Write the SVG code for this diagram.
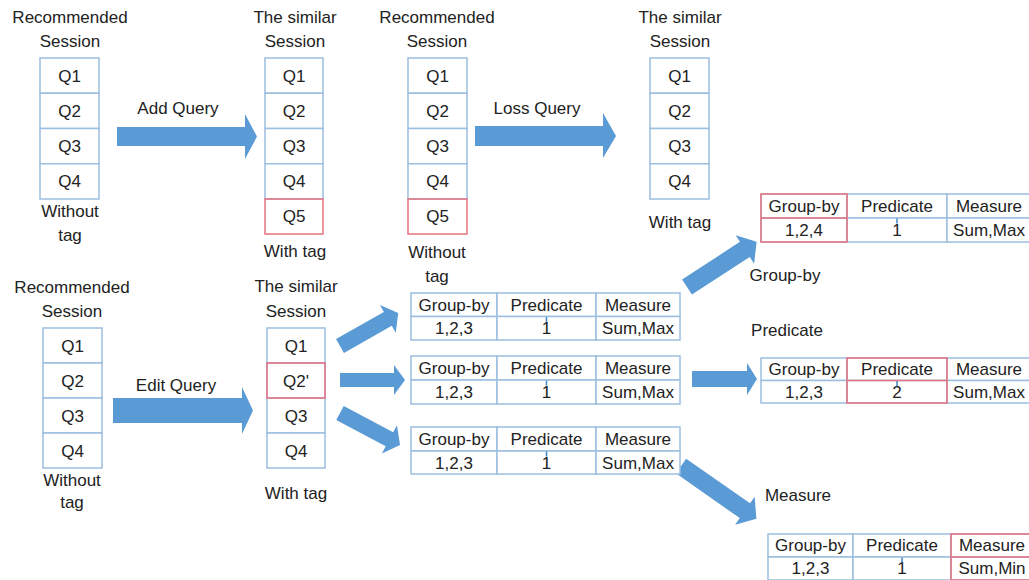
<svg xmlns="http://www.w3.org/2000/svg" width="1029" height="580" viewBox="0 0 1029 580">
<style>
text{font-family:"Liberation Sans",Arial,sans-serif;font-size:17px;fill:#222;text-anchor:middle}
.b{fill:#fff;stroke:#9cbfe0;stroke-width:1.5}
.r{fill:none;stroke:#e8737f;stroke-width:1.5}
.ar{fill:#5b9bd5}
.tk{stroke:#3f86c9;stroke-width:1.5}
</style>
<rect width="1029" height="580" fill="#fff"/>

<g id="connectors">
<polygon class="ar" points="117,127 245,127 245,114 257,136.5 245,159 245,146 117,146"/>
<polygon class="ar" points="475,126 603,126 603,113 616,136 603,158 603,146 475,146"/>
<polygon class="ar" points="113,398 242,398 242,387 253,410.5 242,434 242,423 113,423"/>
<polygon class="ar" transform="translate(340,346) rotate(-29.6)" points="0,-8 55,-8 55,-16 67,0 55,16 55,8 0,8"/>
<polygon class="ar" points="340,373 394,373 394,365 405,380 394,395 394,387 340,387"/>
<polygon class="ar" transform="translate(340,413) rotate(28)" points="0,-8 56,-8 56,-16 68,0 56,16 56,8 0,8"/>
<polygon class="ar" transform="translate(687,287) rotate(-33)" points="0,-9 69,-9 69,-17 83,0 69,17 69,9 0,9"/>
<polygon class="ar" points="692,371 747,371 747,363 757,379 747,395 747,387 692,387"/>
<polygon class="ar" transform="translate(681,466) rotate(35)" points="0,-9 78,-9 78,-17 92,0 78,17 78,9 0,9"/>
<text x="178" y="114">Add Query</text>
<text x="537" y="114">Loss Query</text>
<text x="176" y="391">Edit Query</text>
<text x="785" y="281">Group-by</text>
<text x="787" y="336">Predicate</text>
<text x="798" y="501">Measure</text>
</g>

<g id="session-rec-1">
<text x="70" y="23">Recommended</text>
<text x="70" y="47">Session</text>
<rect class="b" x="40" y="58" width="59" height="35.25"/>
<rect class="b" x="40" y="93.25" width="59" height="35.25"/>
<rect class="b" x="40" y="128.5" width="59" height="35.25"/>
<rect class="b" x="40" y="163.75" width="59" height="35.25"/>
<text x="69.5" y="82">Q1</text><text x="69.5" y="117">Q2</text><text x="69.5" y="152">Q3</text><text x="69.5" y="187">Q4</text>
<text x="70" y="217">Without</text>
<text x="70" y="241">tag</text>
</g>

<g id="session-sim-1">
<text x="295" y="23">The similar</text>
<text x="295" y="47">Session</text>
<rect class="b" x="265" y="58" width="58" height="35.25"/>
<rect class="b" x="265" y="93.25" width="58" height="35.25"/>
<rect class="b" x="265" y="128.5" width="58" height="35.25"/>
<rect class="b" x="265" y="163.75" width="58" height="35.25"/>
<rect class="r" x="265" y="199" width="58" height="35"/>
<text x="294" y="82">Q1</text><text x="294" y="117">Q2</text><text x="294" y="152">Q3</text><text x="294" y="187">Q4</text><text x="294" y="222">Q5</text>
<text x="295" y="257">With tag</text>
</g>

<g id="session-rec-2">
<text x="437" y="23">Recommended</text>
<text x="437" y="47">Session</text>
<rect class="b" x="408" y="58" width="59" height="35.25"/>
<rect class="b" x="408" y="93.25" width="59" height="35.25"/>
<rect class="b" x="408" y="128.5" width="59" height="35.25"/>
<rect class="b" x="408" y="163.75" width="59" height="35.25"/>
<rect class="r" x="408" y="199" width="59" height="35"/>
<text x="437.5" y="82">Q1</text><text x="437.5" y="117">Q2</text><text x="437.5" y="152">Q3</text><text x="437.5" y="187">Q4</text><text x="437.5" y="222">Q5</text>
<text x="437" y="258">Without</text>
<text x="437" y="282">tag</text>
</g>

<g id="session-sim-2">
<text x="680" y="23">The similar</text>
<text x="680" y="47">Session</text>
<rect class="b" x="650" y="58" width="59" height="35.25"/>
<rect class="b" x="650" y="93.25" width="59" height="35.25"/>
<rect class="b" x="650" y="128.5" width="59" height="35.25"/>
<rect class="b" x="650" y="163.75" width="59" height="35.25"/>
<text x="679.5" y="82">Q1</text><text x="679.5" y="117">Q2</text><text x="679.5" y="152">Q3</text><text x="679.5" y="187">Q4</text>
<text x="680" y="228">With tag</text>
</g>

<g id="session-rec-3">
<text x="72" y="293">Recommended</text>
<text x="72" y="317">Session</text>
<rect class="b" x="43" y="328" width="59" height="35"/>
<rect class="b" x="43" y="363" width="59" height="35"/>
<rect class="b" x="43" y="398" width="59" height="35"/>
<rect class="b" x="43" y="433" width="59" height="35"/>
<text x="72.5" y="352">Q1</text><text x="72.5" y="387">Q2</text><text x="72.5" y="422">Q3</text><text x="72.5" y="457">Q4</text>
<text x="72" y="486">Without</text>
<text x="72" y="508">tag</text>
</g>

<g id="session-sim-3">
<text x="296" y="292">The similar</text>
<text x="296" y="317">Session</text>
<rect class="b" x="267" y="328" width="58" height="35"/>
<rect class="b" x="267" y="363" width="58" height="35"/>
<rect class="b" x="267" y="398" width="58" height="35"/>
<rect class="b" x="267" y="433" width="58" height="35"/>
<rect class="r" x="267" y="363" width="58" height="35"/>
<text x="296" y="352">Q1</text><text x="296" y="387">Q2'</text><text x="296" y="422">Q3</text><text x="296" y="457">Q4</text>
<text x="296" y="499">With tag</text>
</g>

<g id="table-1">
<rect class="b" x="411" y="293" width="86" height="23.5"/><rect class="b" x="497" y="293" width="99" height="23.5"/><rect class="b" x="596" y="293" width="84" height="23.5"/>
<rect class="b" x="411" y="316.5" width="86" height="23.5"/><rect class="b" x="497" y="316.5" width="99" height="23.5"/><rect class="b" x="596" y="316.5" width="84" height="23.5"/>
<text x="454" y="311">Group-by</text><text x="546.5" y="311">Predicate</text><text x="638" y="311">Measure</text>
<text x="454" y="334">1,2,3</text><text x="546.5" y="334">1</text><text x="638" y="334">Sum,Max</text>
<line class="tk" x1="546.5" y1="317" x2="546.5" y2="322"/>
</g>

<g id="table-2">
<rect class="b" x="411" y="356" width="86" height="24"/><rect class="b" x="497" y="356" width="99" height="24"/><rect class="b" x="596" y="356" width="84" height="24"/>
<rect class="b" x="411" y="380" width="86" height="24"/><rect class="b" x="497" y="380" width="99" height="24"/><rect class="b" x="596" y="380" width="84" height="24"/>
<text x="454" y="374">Group-by</text><text x="546.5" y="374">Predicate</text><text x="638" y="374">Measure</text>
<text x="454" y="398">1,2,3</text><text x="546.5" y="398">1</text><text x="638" y="398">Sum,Max</text>
<line class="tk" x1="546.5" y1="380.5" x2="546.5" y2="385.5"/>
</g>

<g id="table-3">
<rect class="b" x="411" y="427" width="86" height="24"/><rect class="b" x="497" y="427" width="99" height="24"/><rect class="b" x="596" y="427" width="84" height="24"/>
<rect class="b" x="411" y="451" width="86" height="23"/><rect class="b" x="497" y="451" width="99" height="23"/><rect class="b" x="596" y="451" width="84" height="23"/>
<text x="454" y="445">Group-by</text><text x="546.5" y="445">Predicate</text><text x="638" y="445">Measure</text>
<text x="454" y="469">1,2,3</text><text x="546.5" y="469">1</text><text x="638" y="469">Sum,Max</text>
<line class="tk" x1="546.5" y1="451.5" x2="546.5" y2="456.5"/>
</g>

<g id="table-groupby">
<rect class="b" x="761" y="194" width="86" height="24"/><rect class="b" x="847" y="194" width="100" height="24"/><rect class="b" x="947" y="194" width="90" height="24"/>
<rect class="b" x="761" y="218" width="86" height="24"/><rect class="b" x="847" y="218" width="100" height="24"/><rect class="b" x="947" y="218" width="90" height="24"/>
<rect class="r" x="761" y="194" width="86" height="48"/>
<line class="r" x1="761" y1="218" x2="847" y2="218"/>
<text x="804" y="212">Group-by</text><text x="897" y="212">Predicate</text><text x="989" y="212">Measure</text>
<text x="804" y="236">1,2,4</text><text x="897" y="236">1</text><text x="989" y="236">Sum,Max</text>
<line class="tk" x1="897" y1="218.5" x2="897" y2="223.5"/>
</g>

<g id="table-predicate">
<rect class="b" x="761" y="358" width="86" height="22.5"/><rect class="b" x="847" y="358" width="100" height="22.5"/><rect class="b" x="947" y="358" width="90" height="22.5"/>
<rect class="b" x="761" y="380.5" width="86" height="22.5"/><rect class="b" x="847" y="380.5" width="100" height="22.5"/><rect class="b" x="947" y="380.5" width="90" height="22.5"/>
<rect class="r" x="847" y="358" width="100" height="45"/>
<line class="r" x1="847" y1="380.5" x2="947" y2="380.5"/>
<text x="804" y="375">Group-by</text><text x="897" y="375">Predicate</text><text x="989" y="375">Measure</text>
<text x="804" y="398">1,2,3</text><text x="897" y="398">2</text><text x="989" y="398">Sum,Max</text>
<line class="tk" x1="897" y1="381" x2="897" y2="386"/>
</g>

<g id="table-measure">
<rect class="b" x="768" y="534" width="85" height="23"/><rect class="b" x="853" y="534" width="98" height="23"/><rect class="b" x="951" y="534" width="90" height="23"/>
<rect class="b" x="768" y="557" width="85" height="23"/><rect class="b" x="853" y="557" width="98" height="23"/><rect class="b" x="951" y="557" width="90" height="23"/>
<rect class="r" x="951" y="534" width="90" height="46"/>
<line class="r" x1="951" y1="557" x2="1041" y2="557"/>
<text x="810.5" y="551">Group-by</text><text x="902" y="551">Predicate</text><text x="992" y="551">Measure</text>
<text x="810.5" y="574">1,2,3</text><text x="902" y="574">1</text><text x="992" y="574">Sum,Min</text>
<line class="tk" x1="902" y1="557.5" x2="902" y2="562.5"/>
</g>
</svg>
